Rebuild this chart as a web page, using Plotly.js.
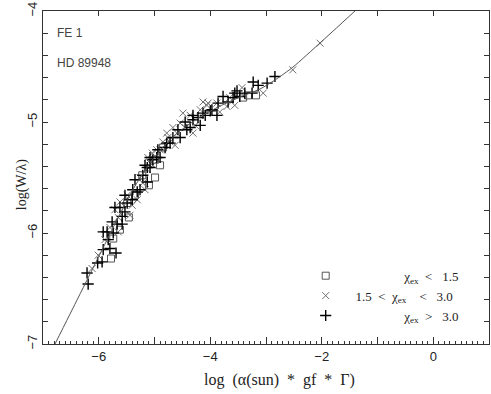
<!DOCTYPE html>
<html><head><meta charset="utf-8">
<script src="https://cdn.plot.ly/plotly-3.0.1.min.js"></script>
<style>html,body{margin:0;padding:0;background:#fff}#chart{width:491px;height:394px}</style>
</head><body><div id="chart"></div>
<script>
// chi_ex < 1.5 (squares)
const squareX = [-5.78,-5.74,-5.62,-5.46,-5.49,-5.35,-5.10,-4.99,-5.22,-4.90,-4.99,-4.85,-3.41,-3.32,-3.18];
const squareY = [-6.23,-6.05,-5.97,-5.86,-5.73,-5.66,-5.57,-5.50,-5.48,-5.39,-5.34,-5.23,-4.78,-4.76,-4.76];
// 1.5 < chi_ex < 3.0 (x)
const crossX = [-6.12,-6.01,-5.89,-5.65,-5.80,-5.65,-5.44,-5.71,-5.40,-5.62,-5.31,-5.49,-5.17,-5.21,-5.26,-5.13,-5.03,-5.08,-5.12,-5.04,-4.96,-4.63,-4.72,-4.85,-4.60,-4.78,-4.31,-4.67,-4.45,-4.27,-4.54,-4.36,-4.49,-3.83,-4.18,-3.70,-4.06,-3.56,-4.04,-3.88,-4.13,-3.05,-3.43,-2.52,-2.03,-4.76,-4.90,-3.65];
const crossY = [-6.32,-6.20,-6.06,-5.99,-5.95,-5.86,-5.84,-5.79,-5.75,-5.72,-5.70,-5.66,-5.61,-5.55,-5.50,-5.43,-5.39,-5.37,-5.32,-5.28,-5.25,-5.21,-5.18,-5.18,-5.10,-5.10,-5.10,-5.05,-5.05,-5.03,-5.01,-4.94,-4.92,-4.91,-4.89,-4.86,-4.85,-4.85,-4.83,-4.83,-4.82,-4.74,-4.69,-4.53,-4.29,-5.14,-5.25,-4.78];
// chi_ex > 3.0 (+)
const plusX = [-6.19,-6.21,-6.02,-5.94,-5.69,-5.92,-5.80,-5.83,-5.92,-5.85,-5.74,-5.76,-5.67,-5.58,-5.58,-5.53,-5.62,-5.71,-5.49,-5.53,-5.40,-5.39,-5.31,-5.26,-5.13,-5.35,-5.21,-5.13,-5.08,-5.17,-5.03,-5.08,-4.96,-4.90,-4.94,-4.81,-4.78,-4.72,-4.67,-4.54,-4.58,-4.42,-4.36,-4.18,-4.45,-4.31,-4.22,-4.31,-4.09,-3.88,-4.13,-4.00,-3.97,-3.86,-3.68,-3.59,-3.77,-3.47,-3.56,-3.38,-3.25,-3.52,-3.14,-2.98,-3.23,-2.84];
const plusY = [-6.46,-6.36,-6.27,-6.26,-6.18,-6.15,-6.14,-6.06,-5.99,-5.99,-6.00,-5.90,-5.92,-5.92,-5.85,-5.81,-5.77,-5.77,-5.73,-5.66,-5.70,-5.61,-5.63,-5.61,-5.54,-5.52,-5.48,-5.41,-5.41,-5.39,-5.34,-5.32,-5.32,-5.32,-5.25,-5.23,-5.19,-5.19,-5.14,-5.14,-5.07,-5.07,-5.05,-5.03,-5.00,-4.98,-4.96,-4.94,-4.94,-4.94,-4.92,-4.90,-4.89,-4.83,-4.82,-4.78,-4.77,-4.77,-4.74,-4.74,-4.74,-4.72,-4.67,-4.65,-4.64,-4.59];
// theoretical curve of growth
const curveX = [-6.785,-6.372,-5.924,-5.619,-5.350,-5.081,-4.812,-4.543,-4.184,-3.825,-3.466,-3.108,-2.839,-2.516,-2.031,-1.404];
const curveY = [-7.0,-6.586,-6.135,-5.829,-5.577,-5.369,-5.207,-5.081,-4.955,-4.856,-4.775,-4.703,-4.622,-4.505,-4.288,-4.0];

const yTickVals = [-7,-6,-5,-4];
const yTickText = ['−7','−6','−5','−4'];
const labelFE = 'FE 1';
const labelStar = 'HD 89948';

const NB = '\u00A0';
const pad = n => NB.repeat(n);
const chi = 'χ<sub>ex</sub>';
const xTitle = 'log' + pad(2) + '(α(sun)' + pad(2) + '*' + pad(2) + 'gf' + pad(2) + '*' + pad(2) + 'Γ)';
const yTitle = 'log(W/λ)';

const traces = [
  {x: squareX, y: squareY, type: 'scatter', mode: 'markers',
   name: pad(18) + chi + pad(2) + '&lt;' + pad(3) + '1.5',
   marker: {symbol: 'square-open', size: 7, color: '#555', line: {width: 1, color: '#555'}}},
  {x: crossX, y: crossY, type: 'scatter', mode: 'markers',
   name: pad(3) + '1.5' + pad(2) + '&lt;' + pad(2) + chi + pad(4) + '&lt;' + pad(3) + '3.0',
   marker: {symbol: 'x-thin-open', size: 7, color: '#707070', line: {width: 1, color: '#707070'}}},
  {x: plusX, y: plusY, type: 'scatter', mode: 'markers',
   name: pad(18) + chi + pad(2) + '&gt;' + pad(3) + '3.0',
   marker: {symbol: 'cross-thin-open', size: 8, color: '#000', line: {width: 1.4, color: '#000'}}},
  {x: curveX, y: curveY, type: 'scatter', mode: 'lines', xaxis: 'x2',
   showlegend: false, line: {color: '#555', width: 1, shape: 'spline', smoothing: 0.6}}
];

const serif = 'Liberation Serif, Times New Roman, serif';
const sans = 'Liberation Sans, Arial, sans-serif';

const layout = {
  width: 491, height: 394,
  margin: {l: 43, r: 2, t: 11, b: 50},
  paper_bgcolor: '#fff', plot_bgcolor: '#fff',
  showlegend: true,
  legend: {x: 0.589, y: 0.25, xanchor: 'left', yanchor: 'top', bgcolor: 'rgba(0,0,0,0)',
           font: {family: serif, size: 13, color: '#222'}, itemclick: false},
  xaxis: {range: [-7, 1], tickmode: 'linear', tick0: -6, dtick: 1, ticklabelstep: 2,
          ticks: 'inside', ticklen: 7, tickcolor: '#333', showline: true, linecolor: '#333',
          showgrid: false, zeroline: false,
          minor: {dtick: 0.1, ticks: 'inside', ticklen: 3, tickcolor: '#333', showgrid: false},
          tickfont: {family: sans, size: 13, color: '#222'}},
  xaxis2: {overlaying: 'x', matches: 'x', side: 'top', range: [-7, 1], dtick: 1,
           ticks: 'inside', ticklen: 5, tickcolor: '#333', showline: true, linecolor: '#333',
           showticklabels: false, showgrid: false, zeroline: false},
  yaxis: {range: [-7, -4], tickmode: 'array', tickvals: yTickVals, ticktext: yTickText,
          ticks: 'inside', ticklen: 5, tickcolor: '#333', showline: true, linecolor: '#333',
          mirror: 'ticks', showgrid: false, zeroline: false, tickangle: -90,
          minor: {dtick: 0.2, ticks: 'inside', ticklen: 5, tickcolor: '#333', showgrid: false},
          tickfont: {family: sans, size: 13, color: '#222'}},
  annotations: [
    {text: labelFE, xref: 'paper', yref: 'paper', x: 0.027, y: 0.934, xanchor: 'left', yanchor: 'middle',
     showarrow: false, font: {family: sans, size: 12, color: '#444'}},
    {text: labelStar, xref: 'paper', yref: 'paper', x: 0.027, y: 0.844, xanchor: 'left', yanchor: 'middle',
     showarrow: false, font: {family: sans, size: 12, color: '#444'}},
    {text: xTitle, xref: 'paper', yref: 'paper', x: 0.531, y: -0.108, xanchor: 'center', yanchor: 'middle',
     showarrow: false, font: {family: serif, size: 16, color: '#222'}},
    {text: yTitle, xref: 'paper', yref: 'paper', x: -0.047, y: 0.477, xanchor: 'center', yanchor: 'middle',
     textangle: -90, showarrow: false, font: {family: serif, size: 14, color: '#222'}}
  ]
};

Plotly.newPlot('chart', traces, layout, {displayModeBar: false, staticPlot: true});
</script>
</body></html>
